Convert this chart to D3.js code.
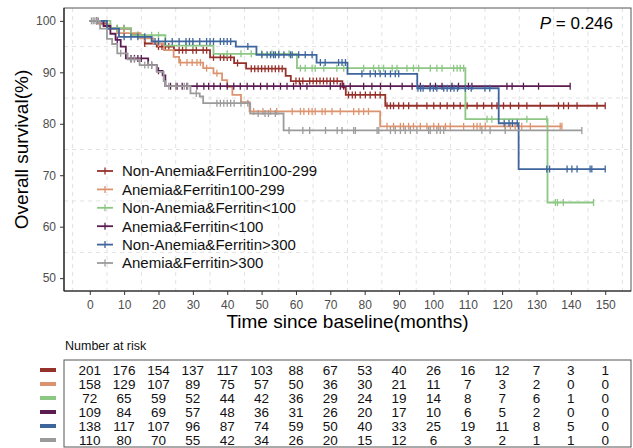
<!DOCTYPE html>
<html>
<head>
<meta charset="utf-8">
<script src="https://cdn.jsdelivr.net/npm/d3@7"></script>
<style>
body{margin:0;background:#fff;}
svg text{font-family:"Liberation Sans",Arial,sans-serif;}
</style>
</head>
<body>
<svg id="chart" width="633" height="448"></svg>
<script>
var groups = ["Non-Anemia&Ferritin100-299","Anemia&Ferritin100-299","Non-Anemia&Ferritin<100","Anemia&Ferritin<100","Non-Anemia&Ferritin>300","Anemia&Ferritin>300"];
var colors = ["#96302a","#dc9470","#8cc783","#5c1c52","#3f659d","#9b9b9b"];

// [time, survival after the drop]
var redSteps = [[0,100],[2.5,99.5],[5,98.5],[12,97.2],[16,95.6],[19.5,95],[24.5,94.3],[35,92.9],[42,91.8],[45.5,90.7],[57,89.3],[58.5,88.3],[73.5,87.1],[74.5,85.6],[86,83.5]];
var salmonSteps = [[0,100],[3,99.3],[6,98.5],[8,97.6],[14.7,96.6],[18.5,95.6],[21.6,94.3],[24.4,93],[26,91.9],[33,90.8],[36,89.8],[38.5,88.5],[40,87.2],[41.5,85.6],[44,84.2],[46.5,82.4],[84.5,79.5]];
var greenSteps = [[0,100],[6,98.6],[12,97.2],[22,95.2],[36,93.6],[60.3,90.8],[109.3,80.9],[133.2,64.7]];
var purpleSteps = [[0,100],[4,99],[6,97.5],[7.5,96.3],[9,95],[10.5,92.7],[17,91.4],[19.5,90.3],[21.2,89.4],[22,87.3]];
var blueSteps = [[0,100],[5,98.5],[8.5,96.9],[18,96],[42.5,95],[48.5,93.4],[66,91.9],[75,89.7],[95.3,86.9],[119,80.1],[124.8,71.2]];
var graySteps = [[0,100],[3,98.5],[5,96.5],[6.5,95.5],[8,93.7],[11,92.5],[14.5,91.4],[19.5,90.1],[21.5,88.3],[22,87.3],[29.3,85.9],[32,85.3],[33,84],[46.7,82],[56.4,78.7]];
var ends = [150,137.4,146.6,139.8,150,143.2];

var redCensor = [8,10,14,16,20,21,22,23,26,27,28,30,31,33,34,36,38,39,40,41,43,47,48,49,50,51,52,53,54,55,56,60,61,62,64,65,66,67,68,69,70,71,72,75.3,76.4,77.3,78.7,80.2,81.6,83.1,84.5,86.5,87.5,88.4,89.9,91.3,92.8,95.2,98.1,100.1,102,104,105.9,107.8,109.8,112.7,114.6,117,118.5,120.4,122.4,124.8,127.2,131.1,136.4,137.9,139.3,141.8,147.6,150];
var salmonCensor = [2,10,12,16,20,26.4,28.3,29.8,31.2,32.2,34,37,47.7,50.4,52.6,54.4,58.9,61.3,62.3,63.7,64.7,65.6,67.6,68.5,70.5,72.9,76.8,78.3,79.7,81.1,86.5,88.4,90.4,91.3,92.8,94.2,96.2,98.1,100.1,101.5,103.5,104.9,108.8,111.7,112.7,113.6,115.1,120.9,122.4,123.8,125.7,128.2,136.9,137.4];
var greenCensor = [8,10,14,18,20,28,30,40,44,47,50,53,55,58,61.3,62.7,64.7,65.6,68.1,71.9,73.9,79.7,82.6,84.1,85.5,88,89.4,92.3,94.2,95.7,99.1,101,102.5,105.9,106.9,107.8,108.8,115.6,117,127.2,133,135.5,136.1,137.8,146.6];
var purpleCensor = [2,8,12,13,14,15,18,20,23.5,25.4,26.9,28.3,31.2,33.2,34.6,36.1,38,40,41.9,43.8,45.8,47.7,49.7,51.6,53.5,55.5,57.4,59.3,61.3,63.2,70,72.9,73.9,75.8,79.7,82.1,84.6,87.5,90.9,93.8,96.2,99.1,100.6,102.5,105.4,107.3,110.2,111.2,121.4,122.9,126.2,130.6,139.8];
var blueCensor = [10,12,14,16,19,20,22,24,26,28,29,30,32,34,35,36,38,39,40,41,46,50.1,51.6,52.6,53.5,54,55,56.5,58.4,58.9,60.8,62.7,64.7,67.1,68.5,72.4,73.4,74.4,79.2,81.6,83.1,84.5,86,87.5,88.9,89.9,95.5,96.3,97,99,100,101,103,104,105,106,107,109.3,111,115,116.4,120.6,122,123,124.4,133,133.8,138.9,140.3,141.8,145.6,146.1,150];
var grayCensor = [0.5,1,1.5,2,2.5,9,12,13,16,17,18,23,25,27.5,28.5,31,37,38,39,40,41,42,44,46,49,51,52,54,58,62,64,68.6,72,73.4,76.8,77.3,83.6,84.1,87.5,88.9,90.4,91.8,93.3,95.2,98.6,99.1,101,102,103,114.1,116.5,120.9,143.2];

var timeTicks = [0,10,20,30,40,50,60,70,80,90,100,110,120,130,140,150];
var survTicks = [50,60,70,80,90,100];

var redRisk = [201,176,154,137,117,103,88,67,53,40,26,16,12,7,3,1];
var salmonRisk = [158,129,107,89,75,57,50,36,30,21,11,7,3,2,0,0];
var greenRisk = [72,65,59,52,44,42,36,29,24,19,14,8,7,6,1,0];
var purpleRisk = [109,84,69,57,48,36,31,26,20,17,10,6,5,2,0,0];
var blueRisk = [138,117,107,96,87,74,59,50,40,33,25,19,11,8,5,0];
var grayRisk = [110,80,70,55,42,34,26,20,15,12,6,3,2,1,1,0];

var allSteps = [redSteps,salmonSteps,greenSteps,purpleSteps,blueSteps,graySteps];
var allCensor = [redCensor,salmonCensor,greenCensor,purpleCensor,blueCensor,grayCensor];
var allRisk = [redRisk,salmonRisk,greenRisk,purpleRisk,blueRisk,grayRisk];

var svg = d3.select("#chart");
var L = 64, R = 631, T = 8, B = 291;
var x = d3.scaleLinear().domain([-7.5,157.5]).range([L,R]);
var y = d3.scaleLinear().domain([47.5,102.5]).range([B,T]);

// minor grid only
var gx = [], gy = [];
for (var v = -5; v <= 155; v += 10) gx.push(v);
for (var w = 55; w <= 95; w += 10) gy.push(w);
var grid = svg.append("g").attr("stroke","#e2e2e2").attr("stroke-dasharray","4,4").attr("stroke-width",1);
grid.selectAll("line.gx").data(gx).enter().append("line").attr("class","gx")
  .attr("x1",function(d){return x(d);}).attr("x2",function(d){return x(d);}).attr("y1",T).attr("y2",B);
grid.selectAll("line.gy").data(gy).enter().append("line").attr("class","gy")
  .attr("y1",function(d){return y(d);}).attr("y2",function(d){return y(d);}).attr("x1",L).attr("x2",R);

var line = d3.line().x(function(d){return x(d[0]);}).y(function(d){return y(d[1]);}).curve(d3.curveStepAfter);

function survAt(steps, t){
  var s = steps[0][1];
  steps.forEach(function(p){ if (p[0] <= t) s = p[1]; });
  return s;
}

var curves = svg.append("g");
allSteps.forEach(function(steps, i){
  var pts = steps.concat([[ends[i], steps[steps.length-1][1]]]);
  var g = curves.append("g").attr("stroke", colors[i]).attr("fill","none");
  g.append("path").attr("d", line(pts)).attr("stroke-width",1.8);
  g.selectAll("line").data(allCensor[i]).enter().append("line")
    .attr("x1",function(d){return x(d);}).attr("x2",function(d){return x(d);})
    .attr("y1",function(d){return y(survAt(steps,d)) - 3.5;})
    .attr("y2",function(d){return y(survAt(steps,d)) + 3.5;})
    .attr("stroke-width",1.3);
});

// panel border + axes
svg.append("rect").attr("x",L).attr("y",T).attr("width",R-L).attr("height",B-T)
  .attr("fill","none").attr("stroke","#555").attr("stroke-width",1);

var yAxis = svg.append("g").attr("transform","translate("+L+",0)")
  .call(d3.axisLeft(y).tickValues(survTicks).tickSize(4).tickPadding(4));
var xAxis = svg.append("g").attr("transform","translate(0,"+B+")")
  .call(d3.axisBottom(x).tickValues(timeTicks).tickSize(4).tickPadding(5));
[yAxis,xAxis].forEach(function(a){
  a.select(".domain").attr("stroke","#222").attr("stroke-width",1.2);
  a.selectAll(".tick line").attr("stroke","#333");
  a.selectAll(".tick text").attr("fill","#4d4d4d").style("font-size","12px").style("font-family","Liberation Sans, Arial, sans-serif");
});
xAxis.select(".domain").attr("d","M"+L+",0H"+R);
yAxis.select(".domain").attr("d","M0,"+T+"V"+B);

svg.append("text").attr("x",(L+R)/2).attr("y",328).attr("text-anchor","middle")
  .style("font-size","19px").text("Time since baseline(months)");
svg.append("text").attr("transform","translate(28,"+((T+B)/2)+") rotate(-90)").attr("text-anchor","middle")
  .style("font-size","19px").text("Overall survival(%)");

var p = svg.append("text").attr("x",613).attr("y",28.5).attr("text-anchor","end").style("font-size","17px");
p.append("tspan").style("font-style","italic").text("P");
p.append("tspan").text(" = 0.246");

// legend
var leg = svg.append("g");
groups.forEach(function(name, i){
  var cy = 171 + i*18.4;
  var g = leg.append("g").attr("stroke",colors[i]);
  g.append("line").attr("x1",97).attr("x2",113).attr("y1",cy).attr("y2",cy).attr("stroke-width",1.8);
  g.append("line").attr("x1",105).attr("x2",105).attr("y1",cy-3.5).attr("y2",cy+3.5).attr("stroke-width",1.3);
  leg.append("text").attr("x",122).attr("y",cy+5.3).style("font-size","15px").attr("fill","#111").text(name);
});

// risk table
svg.append("text").attr("x",65).attr("y",350).style("font-size","12.5px").attr("fill","#111").text("Number at risk");
svg.append("rect").attr("x",L).attr("y",360).attr("width",R-L).attr("height",87)
  .attr("fill","none").attr("stroke","#555").attr("stroke-width",1);
allRisk.forEach(function(row, i){
  var cy = 370 + i*14;
  svg.append("rect").attr("x",40).attr("y",cy-2).attr("width",16).attr("height",4).attr("fill",colors[i]);
  svg.append("g").selectAll("text").data(row).enter().append("text")
    .attr("x",function(d,j){return x(timeTicks[j]);})
    .attr("y",cy+4.8).attr("text-anchor","middle").style("font-size","13.5px").attr("fill","#111")
    .text(function(d){return d;});
});
</script>
</body>
</html>
